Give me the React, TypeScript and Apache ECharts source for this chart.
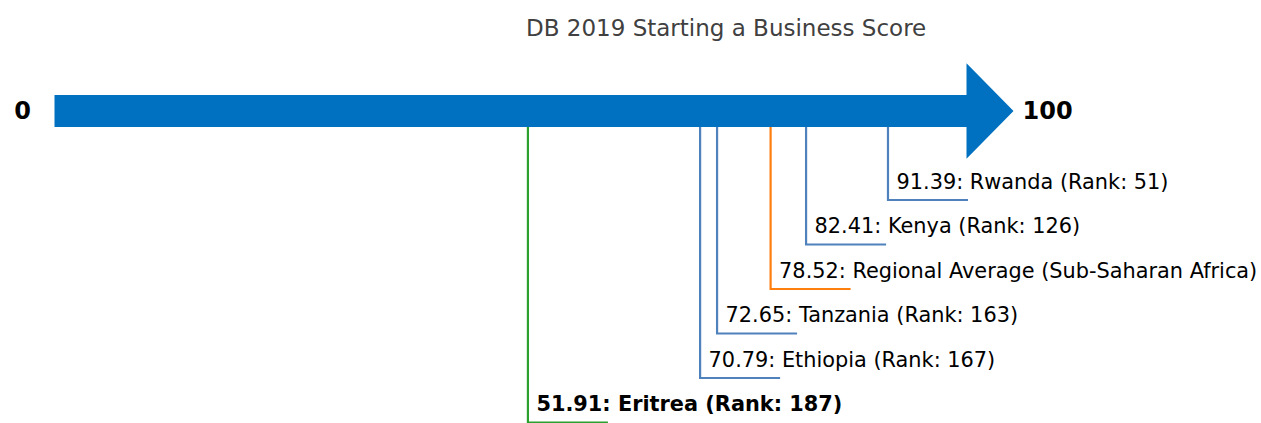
import React, { useEffect, useRef } from "react";
import * as echarts from "echarts";

const TITLE = "DB 2019 Starting a Business Score";
const SCALE_MIN = 0;
const SCALE_MAX = 100;

const countries = [
  "Rwanda",
  "Kenya",
  "Regional Average (Sub-Saharan Africa)",
  "Tanzania",
  "Ethiopia",
  "Eritrea",
];
const scores = [91.39, 82.41, 78.52, 72.65, 70.79, 51.91];
const ranks: (number | null)[] = [51, 126, null, 163, 167, 187];
const groups = ["peer", "peer", "region", "peer", "peer", "focus"];

const COLORS: Record<string, string> = {
  arrow: "#0070C0",
  peer: "#4F81BD",
  region: "#FF7F0E",
  focus: "#2CA02C",
};

const FONT = "'DejaVu Sans', Verdana, sans-serif";

export default function App() {
  const ref = useRef<HTMLDivElement>(null);

  useEffect(() => {
    if (!ref.current) return;
    const chart = echarts.init(ref.current, null, { renderer: "svg" });
    const W = 1261;
    const H = 423;
    const PX_PER_LEVEL = 44.5;
    const SHAFT_Y = 111;
    const SHAFT_HALF = 16;
    const HEAD_HALF = 47.75;
    const HEAD_LEN = 47;
    const LEADER_LEN = 80;
    const LABEL_SIZE = 20.85;

    const labels = countries.map(
      (c, i) =>
        `${scores[i].toFixed(2)}: ${c}` +
        (ranks[i] != null ? ` (Rank: ${ranks[i]})` : "")
    );

    chart.setOption({
      animation: false,
      title: {
        text: TITLE,
        left: 526,
        top: 16.5,
        padding: 0,
        textStyle: {
          fontFamily: FONT,
          fontSize: 23,
          fontWeight: "normal",
          color: "#404040",
        },
      },
      grid: { left: 54.5, right: W - 966.5, top: 0, bottom: 0 },
      xAxis: { type: "value", min: SCALE_MIN, max: SCALE_MAX, show: false },
      yAxis: {
        type: "value",
        inverse: true,
        min: -SHAFT_Y / PX_PER_LEVEL,
        max: (H - SHAFT_Y) / PX_PER_LEVEL,
        show: false,
      },
      series: [
        {
          type: "custom",
          name: "scores",
          z: 1,
          data: scores.map((s, i) => [s, i + 2, i]),
          renderItem: (params: any, api: any) => {
            const idx = api.value(2);
            const base = api.coord([api.value(0), 0]);
            const p = api.coord([api.value(0), api.value(1)]);
            const color = COLORS[groups[idx]];
            return {
              type: "group",
              children: [
                {
                  type: "polyline",
                  shape: {
                    points: [
                      [p[0], base[1] + SHAFT_HALF],
                      [p[0], p[1]],
                      [p[0] + LEADER_LEN, p[1]],
                    ],
                  },
                  style: { stroke: color, lineWidth: 2.2, fill: "none" },
                },
                {
                  type: "text",
                  x: p[0] + 8.5,
                  y: p[1] - 18.5,
                  style: {
                    text: labels[idx],
                    align: "left",
                    verticalAlign: "middle",
                    fontFamily: FONT,
                    fontSize: LABEL_SIZE,
                    fontWeight: groups[idx] === "focus" ? "bold" : "normal",
                    fill: "#000",
                  },
                },
              ],
            };
          },
        },
        {
          type: "custom",
          name: "scale",
          z: 2,
          data: [[SCALE_MIN, 0, SCALE_MAX]],
          renderItem: (params: any, api: any) => {
            const a = api.coord([api.value(0), api.value(1)]);
            const b = api.coord([api.value(2), api.value(1)]);
            const y = a[1];
            return {
              type: "group",
              children: [
                {
                  type: "polygon",
                  shape: {
                    points: [
                      [a[0], y - SHAFT_HALF],
                      [b[0], y - SHAFT_HALF],
                      [b[0], y - HEAD_HALF],
                      [b[0] + HEAD_LEN, y],
                      [b[0], y + HEAD_HALF],
                      [b[0], y + SHAFT_HALF],
                      [a[0], y + SHAFT_HALF],
                    ],
                  },
                  style: { fill: COLORS.arrow },
                },
                {
                  type: "text",
                  x: a[0] - 23.5,
                  y: y,
                  style: {
                    text: String(SCALE_MIN),
                    align: "right",
                    verticalAlign: "middle",
                    fontFamily: FONT,
                    fontSize: 24,
                    fontWeight: "bold",
                    fill: "#000",
                  },
                },
                {
                  type: "text",
                  x: b[0] + HEAD_LEN + 9,
                  y: y,
                  style: {
                    text: String(SCALE_MAX),
                    align: "left",
                    verticalAlign: "middle",
                    fontFamily: FONT,
                    fontSize: 24,
                    fontWeight: "bold",
                    fill: "#000",
                  },
                },
              ],
            };
          },
        },
      ],
    });

    return () => chart.dispose();
  }, []);

  return (
    <div
      ref={ref}
      style={{ position: "absolute", left: 0, top: 0, width: 1261, height: 423 }}
    />
  );
}
